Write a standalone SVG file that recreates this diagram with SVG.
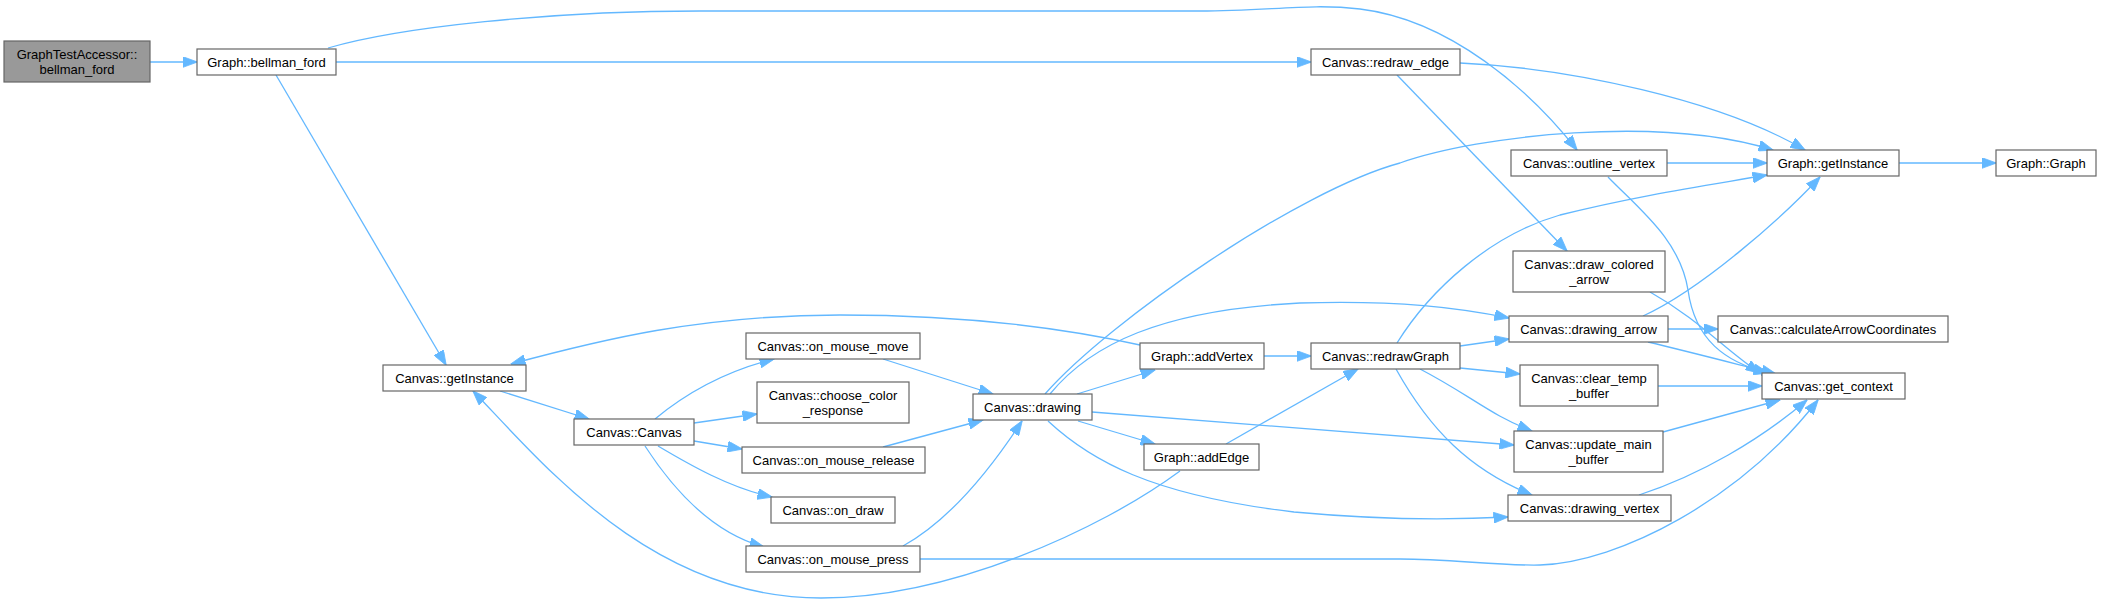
<svg xmlns="http://www.w3.org/2000/svg" width="2101" height="604" viewBox="0 0 2101 604">
<style>
.n rect{fill:#ffffff;stroke:#666666;stroke-width:1.2}
.root rect{fill:#999999}
.n text{font-family:"Liberation Sans",Arial,Helvetica,sans-serif;font-size:13px;fill:#000000;text-anchor:middle}
.e path{fill:none;stroke:#63b8ff;stroke-width:1.3;marker-end:url(#ah)}
</style>
<defs>
<marker id="ah" markerUnits="userSpaceOnUse" markerWidth="15" markerHeight="11" viewBox="0 0 15 11" refX="14.5" refY="5.5" orient="auto">
<path d="M0,0 L15,5.5 L0,11 z" fill="#63b8ff" stroke="#63b8ff" stroke-width="0.8"/>
</marker>
</defs>
<rect width="2101" height="604" fill="#ffffff"/>
<g id="edges" class="e">
<path d="M150,62 L197,62"/>
<path d="M336,62 L1311,62"/>
<path d="M328,48 C400,27 550,11 700,11 L1200,11 C1270,11 1310,3 1360,9 C1450,20 1530,90 1577,150"/>
<path d="M276,75 L446,365"/>
<path d="M1460,63 C1570,68 1720,100 1805,150"/>
<path d="M1397,75 L1567,251"/>
<path d="M1667,163 L1767,163"/>
<path d="M1608,177 C1640,210 1680,240 1688,290 C1695,340 1725,362 1768,373"/>
<path d="M1899,163 L1996,163"/>
<path d="M1045,394 C1110,320 1300,190 1400,163 C1480,135 1660,115 1773,150"/>
<path d="M1397,343 C1430,290 1490,235 1560,215 C1640,195 1710,185 1767,175"/>
<path d="M1643,316 C1700,290 1780,220 1820,177"/>
<path d="M1650,292 C1700,320 1725,350 1760,373"/>
<path d="M1668,329 L1718,329"/>
<path d="M1648,342 C1690,352 1740,365 1776,374"/>
<path d="M1658,386 L1762,386"/>
<path d="M1663,432 L1780,400"/>
<path d="M1639,495 C1700,475 1760,440 1807,400"/>
<path d="M920,559 L1400,559 C1450,559 1500,566 1540,565 C1620,562 1740,500 1818,400"/>
<path d="M500,391 L589,419"/>
<path d="M655,419 C690,390 730,370 774,359"/>
<path d="M694,423 L757,414"/>
<path d="M694,441 L742,449"/>
<path d="M658,446 C690,465 730,488 772,497"/>
<path d="M645,446 C680,500 720,535 764,547"/>
<path d="M883,359 L993,394"/>
<path d="M883,447 L983,420"/>
<path d="M903,546 C950,520 990,470 1022,421"/>
<path d="M1140,345 C1050,325 950,315 840,315 C700,315 600,340 511,364"/>
<path d="M1180,471 C1100,530 950,598 821,598 C650,598 540,460 473,391"/>
<path d="M1077,394 L1155,370"/>
<path d="M1078,421 L1155,444"/>
<path d="M1050,394 C1090,345 1160,310 1300,303 C1400,300 1460,308 1509,318"/>
<path d="M1092,412 L1514,445"/>
<path d="M1048,421 C1090,460 1150,495 1294,512 C1380,520 1450,520 1508,517"/>
<path d="M1264,356 L1311,356"/>
<path d="M1226,444 L1358,369"/>
<path d="M1460,346 L1509,339"/>
<path d="M1460,368 L1520,374"/>
<path d="M1420,369 C1470,395 1490,415 1532,431"/>
<path d="M1396,369 C1430,430 1470,470 1532,495"/>
</g>
<g id="n_gta" class="n root"><rect x="4" y="41" width="146" height="41"/><text x="77" y="58.5">GraphTestAccessor::</text><text x="77" y="73.5">bellman_ford</text></g>
<g id="n_bellman_ford" class="n"><rect x="197" y="49" width="139" height="26"/><text x="266.5" y="66.5">Graph::bellman_ford</text></g>
<g id="n_redraw_edge" class="n"><rect x="1311" y="49" width="149" height="26"/><text x="1385.5" y="66.5">Canvas::redraw_edge</text></g>
<g id="n_outline_vertex" class="n"><rect x="1511" y="150" width="156" height="26"/><text x="1589" y="167.5">Canvas::outline_vertex</text></g>
<g id="n_graph_getInstance" class="n"><rect x="1767" y="150" width="132" height="26"/><text x="1833" y="167.5">Graph::getInstance</text></g>
<g id="n_graph_graph" class="n"><rect x="1996" y="150" width="100" height="26"/><text x="2046" y="167.5">Graph::Graph</text></g>
<g id="n_canvas_getInstance" class="n"><rect x="383" y="365" width="143" height="26"/><text x="454.5" y="382.5">Canvas::getInstance</text></g>
<g id="n_canvas_canvas" class="n"><rect x="574" y="419" width="120" height="26"/><text x="634" y="436.5">Canvas::Canvas</text></g>
<g id="n_on_mouse_move" class="n"><rect x="746" y="333" width="174" height="26"/><text x="833" y="350.5">Canvas::on_mouse_move</text></g>
<g id="n_choose_color" class="n"><rect x="757" y="382" width="152" height="41"/><text x="833" y="399.5">Canvas::choose_color</text><text x="833" y="414.5">_response</text></g>
<g id="n_on_mouse_release" class="n"><rect x="742" y="447" width="183" height="26"/><text x="833.5" y="464.5">Canvas::on_mouse_release</text></g>
<g id="n_on_draw" class="n"><rect x="771" y="497" width="124" height="26"/><text x="833" y="514.5">Canvas::on_draw</text></g>
<g id="n_on_mouse_press" class="n"><rect x="746" y="546" width="174" height="26"/><text x="833" y="563.5">Canvas::on_mouse_press</text></g>
<g id="n_drawing" class="n"><rect x="973" y="394" width="119" height="26"/><text x="1032.5" y="411.5">Canvas::drawing</text></g>
<g id="n_addVertex" class="n"><rect x="1140" y="343" width="124" height="26"/><text x="1202" y="360.5">Graph::addVertex</text></g>
<g id="n_addEdge" class="n"><rect x="1144" y="444" width="115" height="26"/><text x="1201.5" y="461.5">Graph::addEdge</text></g>
<g id="n_redrawGraph" class="n"><rect x="1311" y="343" width="149" height="26"/><text x="1385.5" y="360.5">Canvas::redrawGraph</text></g>
<g id="n_draw_colored_arrow" class="n"><rect x="1513" y="251" width="152" height="41"/><text x="1589" y="268.5">Canvas::draw_colored</text><text x="1589" y="283.5">_arrow</text></g>
<g id="n_drawing_arrow" class="n"><rect x="1509" y="316" width="159" height="26"/><text x="1588.5" y="333.5">Canvas::drawing_arrow</text></g>
<g id="n_clear_temp_buffer" class="n"><rect x="1520" y="365" width="138" height="41"/><text x="1589" y="382.5">Canvas::clear_temp</text><text x="1589" y="397.5">_buffer</text></g>
<g id="n_update_main_buffer" class="n"><rect x="1514" y="431" width="149" height="41"/><text x="1588.5" y="448.5">Canvas::update_main</text><text x="1588.5" y="463.5">_buffer</text></g>
<g id="n_drawing_vertex" class="n"><rect x="1508" y="495" width="163" height="26"/><text x="1589.5" y="512.5">Canvas::drawing_vertex</text></g>
<g id="n_calculateArrowCoordinates" class="n"><rect x="1718" y="316" width="230" height="26"/><text x="1833" y="333.5">Canvas::calculateArrowCoordinates</text></g>
<g id="n_get_context" class="n"><rect x="1762" y="373" width="143" height="26"/><text x="1833.5" y="390.5">Canvas::get_context</text></g>
</svg>
